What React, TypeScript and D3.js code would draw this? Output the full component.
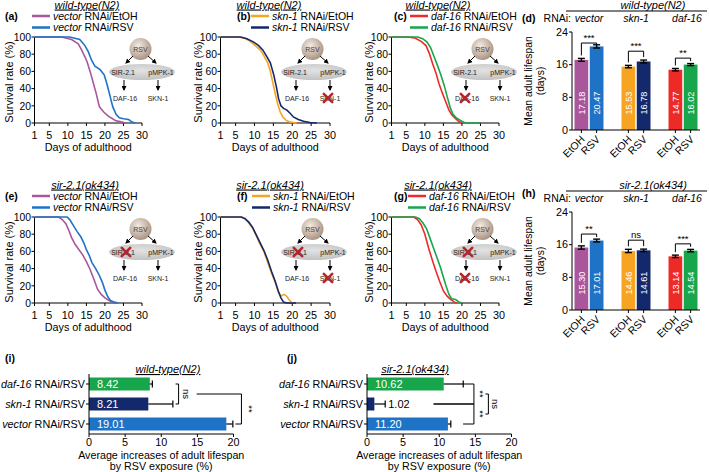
import React from 'react';
import * as d3 from 'd3';

const FONT = '"Liberation Sans", Arial, Helvetica, sans-serif';

// ---------- colours ----------
const COL = {
  vecE: '#a9569b',
  vecR: '#1f73c6',
  sknE: '#f7a423',
  sknR: '#14296b',
  dafE: '#ee2a27',
  dafR: '#17a64c',
};

// ---------- survival data [day, % alive] ----------
const dayTicks = [1, 5, 10, 15, 20, 25, 30];
const survTicks = [0, 20, 40, 60, 80, 100];

const aVecEtOH = [[1,100],[8.3,100],[11,97],[12.8,92],[13.7,85],[14.6,77],[15.2,71],[16,60],[16.9,46],[17.6,35],[18.5,19],[19.6,13],[20.9,8],[22.8,3],[24.6,1],[25.5,0]];
const aVecRSV = [[1,100],[10.5,100],[13.2,97],[14.6,90],[15.5,83],[16.4,73],[17.3,66],[18.7,62],[19.8,56],[20.5,46],[21.4,31],[22.1,19],[23,10],[23.9,6],[25,5],[26.4,4],[27.3,1],[28.2,0]];
const bSknEtOH = [[1,100],[5.4,100],[7.2,99],[8.9,95],[10.2,90],[11.5,85],[12.4,79],[13.5,70],[14.2,60],[14.9,46],[15.5,34],[16.1,23],[16.8,13],[17.5,7],[18.4,3],[19.5,1],[21.2,0]];
const bSknRSV = [[1,100],[6.3,100],[8,98],[9.8,94],[11.1,90],[12.2,85],[13.3,77],[14.2,70],[15.1,56],[15.8,42],[16.4,28],[17,20],[17.7,17],[18.6,15],[19.5,11],[20.3,7],[21.6,4],[23,2],[24.7,0.5],[26.5,0]];
const cDafEtOH = [[1,100],[5.4,100],[7.2,99],[9,95],[10.3,90],[11.2,81],[12.1,69],[13,58],[13.8,46],[14.7,35],[15.6,25],[16.5,15],[17.2,10],[18.1,6],[19.1,2],[20,0]];
const cDafRSV = [[1,100],[8.1,100],[9.4,98],[10.6,94],[11.6,87],[12.5,77],[13.4,67],[14.3,56],[15.2,44],[16,31],[16.9,17],[17.6,10],[18.5,6],[19.6,3],[20.5,1],[21.2,0],[25,0]];
const eVecEtOH = [[1,100],[7.5,100],[8.5,97],[9.5,92],[10.3,84],[11,76],[12,68],[13,62],[14,56],[15,48],[16,39],[17,28],[18,16],[19,10],[20,6],[21,3],[22,1],[23,0]];
const eVecRSV = [[1,100],[9.8,100],[10.5,97],[11.5,90],[12.5,83],[13.5,77],[14.3,70],[15,62],[15.8,55],[16.5,47],[17.5,40],[18.5,32],[19.3,24],[20,15],[20.8,7],[21.5,3],[22.5,1],[23.5,0]];
const fSknEtOH = [[1,100],[6.5,100],[7.5,98],[8.5,93],[9.5,87],[10.5,78],[11.5,68],[12.5,60],[13.5,47],[14.5,35],[15.5,24],[16.3,13],[17,8],[17.8,10],[18.5,8],[19.3,3],[20,0]];
const fSknRSV = [[1,100],[6.5,100],[7.5,98],[8.5,94],[9.5,88],[10.5,79],[11.5,70],[12.5,61],[13.5,50],[14.5,37],[15.5,25],[16.3,14],[17,6],[17.7,1],[18.5,0],[21,0]];
const gDafEtOH = [[1,100],[7,100],[8,97],[9,91],[10,80],[11,64],[12,50],[13,37],[14,25],[15,14],[16,8],[17,4],[18,1],[18.6,0]];
const gDafRSV = [[1,100],[7.5,100],[8.5,98],[9.5,93],[10.5,86],[11.5,74],[12.5,62],[13.5,50],[14.3,40],[15,30],[15.7,20],[16.5,10],[17.2,5],[18.3,4],[19.2,1],[20,0]];

// ---------- mean lifespan data ----------
const groups = ['vector', 'skn-1', 'daf-16'];
const treatments = ['EtOH', 'RSV'];
const meanTicks = [0, 8, 16, 24];
const meanN2 = [17.18, 20.47, 15.53, 16.78, 14.77, 16.02];
const semN2 = [0.35, 0.4, 0.3, 0.35, 0.3, 0.25];
const sigN2 = ['***', '***', '**'];
const sigN2Level = [21.3, 19.3, 17.6];
const meanSir = [15.30, 17.01, 14.46, 14.61, 13.14, 14.54];
const semSir = [0.4, 0.35, 0.4, 0.3, 0.3, 0.3];
const sigSir = ['**', 'ns', '***'];
const sigSirLevel = [18.6, 17.1, 16.2];

// ---------- increase data ----------
const incCats = ['daf-16', 'skn-1', 'vector'];
const incTicks = [0, 5, 10, 15, 20];
const incN2 = [8.42, 8.21, 19.01];
const incN2Err = [0.35, 3.4, 0.9];
const incSir = [10.62, 1.02, 11.20];
const incSirErr = [2.7, 1.5, 0.4];

const barColors = [COL.vecE, COL.vecR, COL.sknE, COL.sknR, COL.dafE, COL.dafR];
const incColors = [COL.dafR, COL.sknR, COL.vecR];

// ---------- layout of survival panels ----------
const survPanels = [
  { label: '(a)', title: 'wild-type(N2)', gene: 'vector', top: 0, x0: 34.5, x1: 142, labX: 5, legX: 32, titleX: 87, ylabX: 13, diagX: 142, e: aVecEtOH, r: aVecRSV, cE: COL.vecE, cR: COL.vecR, cross: [] },
  { label: '(b)', title: 'wild-type(N2)', gene: 'skn-1', top: 0, x0: 220.5, x1: 330, labX: 237, legX: 251, titleX: 269, ylabX: 202, diagX: 314, e: bSknEtOH, r: bSknRSV, cE: COL.sknE, cR: COL.sknR, cross: ['skn'] },
  { label: '(c)', title: 'wild-type(N2)', gene: 'daf-16', top: 0, x0: 391.5, x1: 499, labX: 394, legX: 410, titleX: 438, ylabX: 373, diagX: 484, e: cDafEtOH, r: cDafRSV, cE: COL.dafE, cR: COL.dafR, cross: ['daf'] },
  { label: '(e)', title: 'sir-2.1(ok434)', gene: 'vector', top: 180, x0: 34.5, x1: 142, labX: 5, legX: 32, titleX: 85, ylabX: 13, diagX: 142, e: eVecEtOH, r: eVecRSV, cE: COL.vecE, cR: COL.vecR, cross: ['sir'] },
  { label: '(f)', title: 'sir-2.1(ok434)', gene: 'skn-1', top: 180, x0: 220.5, x1: 330, labX: 237, legX: 252, titleX: 270, ylabX: 202, diagX: 314, e: fSknEtOH, r: fSknRSV, cE: COL.sknE, cR: COL.sknR, cross: ['sir', 'skn'] },
  { label: '(g)', title: 'sir-2.1(ok434)', gene: 'daf-16', top: 180, x0: 391.5, x1: 499, labX: 394, legX: 408, titleX: 438, ylabX: 373, diagX: 484, e: gDafEtOH, r: gDafRSV, cE: COL.dafE, cR: COL.dafR, cross: ['sir', 'daf'] },
];

function Cross({ x, y }) {
  const s = 4.2;
  return (
    <g stroke="#b8252b" strokeWidth={2.6} strokeLinecap="round">
      <line x1={x - s} y1={y - s} x2={x + s} y2={y + s} />
      <line x1={x - s} y1={y + s} x2={x + s} y2={y - s} />
    </g>
  );
}

function Diagram({ cx, cy, cross }) {
  const fs = 7;
  return (
    <g fontSize={fs}>
      <ellipse cx={cx} cy={cy + 23} rx={33} ry={8} fill="url(#ellGrad)" />
      <circle cx={cx - 1.5} cy={cy} r={11} fill="url(#rsvGrad)" />
      <text x={cx - 1.5} y={cy + 2.5} textAnchor="middle" fill="#444">RSV</text>
      <g stroke="#000" strokeWidth={1} markerEnd="url(#ah)">
        <line x1={cx - 9} y1={cy + 7} x2={cx - 16} y2={cy + 14} />
        <line x1={cx + 6} y1={cy + 7} x2={cx + 14} y2={cy + 14} />
        <line x1={cx - 18} y1={cy + 31} x2={cx - 18} y2={cy + 41} />
        <line x1={cx + 16} y1={cy + 31} x2={cx + 16} y2={cy + 41} />
      </g>
      <text x={cx - 19} y={cy + 25.5} textAnchor="middle" fill="#222">SIR-2.1</text>
      <text x={cx + 19} y={cy + 25.5} textAnchor="middle" fill="#222">pMPK-1</text>
      <text x={cx - 17} y={cy + 51.5} textAnchor="middle" fill="#222">DAF-16</text>
      <text x={cx + 16} y={cy + 51.5} textAnchor="middle" fill="#222">SKN-1</text>
      {cross.includes('sir') && <Cross x={cx - 16} y={cy + 23} />}
      {cross.includes('skn') && <Cross x={cx + 14} y={cy + 49} />}
      {cross.includes('daf') && <Cross x={cx - 19} y={cy + 49} />}
    </g>
  );
}

function SurvivalPanel({ p }) {
  const x = d3.scaleLinear().domain([1, 30]).range([p.x0, p.x1]);
  const y = d3.scaleLinear().domain([0, 100]).range([p.top + 123, p.top + 37]);
  const line = d3.line().x((d) => x(d[0])).y((d) => y(d[1]));
  const t = p.top;
  return (
    <g>
      <text x={p.titleX} y={t + 8.5} textAnchor="middle" fontSize={11} fontStyle="italic" style={{ textDecoration: 'underline' }}>{p.title}</text>
      <text x={p.labX} y={t + 19.5} fontSize={10.5} fontWeight="bold">{p.label}</text>
      <line x1={p.legX} x2={p.legX + 18} y1={t + 16} y2={t + 16} stroke={p.cE} strokeWidth={2.5} />
      <text x={p.legX + 21} y={t + 19.7} fontSize={10.5}><tspan fontStyle="italic">{p.gene}</tspan> RNAi/EtOH</text>
      <line x1={p.legX} x2={p.legX + 18} y1={t + 27.5} y2={t + 27.5} stroke={p.cR} strokeWidth={2.5} />
      <text x={p.legX + 21} y={t + 31.2} fontSize={10.5}><tspan fontStyle="italic">{p.gene}</tspan> RNAi/RSV</text>

      <Diagram cx={p.diagX} cy={t + 49} cross={p.cross} />

      {/* axes */}
      <g stroke="#000" strokeWidth={1}>
        <line x1={p.x0} x2={p.x0} y1={y(0)} y2={y(100)} />
        <line x1={p.x0} x2={p.x1} y1={y(0)} y2={y(0)} />
        {survTicks.map((v) => <line key={v} x1={p.x0 - 3} x2={p.x0} y1={y(v)} y2={y(v)} />)}
        {dayTicks.map((v) => <line key={v} x1={x(v)} x2={x(v)} y1={y(0)} y2={y(0) + 3} />)}
      </g>
      {survTicks.map((v) => (
        <text key={v} x={p.x0 - 3.5} y={y(v) + 3.7} textAnchor="end" fontSize={10.3}>{v}</text>
      ))}
      {dayTicks.map((v) => (
        <text key={v} x={x(v)} y={t + 139} textAnchor="middle" fontSize={10.8}>{v}</text>
      ))}
      <text x={(p.x0 + p.x1) / 2} y={t + 150.5} textAnchor="middle" fontSize={10.8}>Days of adulthood</text>
      <text transform={`translate(${p.ylabX},${t + 82}) rotate(-90)`} textAnchor="middle" fontSize={11}>Survival rate (%)</text>

      <path d={line(p.e)} fill="none" stroke={p.cE} strokeWidth={1.6} />
      <path d={line(p.r)} fill="none" stroke={p.cR} strokeWidth={1.6} />
    </g>
  );
}

function MeanPanel({ top, means, sems, sig, sigLevel, title, label, labelY }) {
  const y = d3.scaleLinear().domain([0, 24]).range([top + 130, top + 32]);
  const gx = d3.scaleBand().domain(groups).range([565.5, 706.5]);
  const tx = d3.scaleBand().domain(treatments).range([-15.25, 15.25]).paddingInner(0.1).paddingOuter(0.05);
  const ax = 572;
  const bars = [];
  groups.forEach((g, gi) => treatments.forEach((tr, ti) => {
    const i = gi * 2 + ti;
    const cx = gx(g) + gx.bandwidth() / 2 + tx(tr) + tx.bandwidth() / 2;
    bars.push({ i, g, tr, cx, v: means[i], e: sems[i], c: barColors[i] });
  }));
  const bw = tx.bandwidth();
  return (
    <g>
      <text x={653} y={top + 8.5} textAnchor="middle" fontSize={11} fontStyle="italic">{title}</text>
      <line x1={566} x2={707} y1={top + 11} y2={top + 11} stroke="#000" strokeWidth={1} />
      <text x={522} y={labelY} fontSize={10.5} fontWeight="bold">{label}</text>
      <text x={571} y={top + 22} textAnchor="end" fontSize={10.5}>RNAi:</text>
      {groups.map((g) => (
        <text key={g} x={gx(g) + gx.bandwidth() / 2 + (g === 'daf-16' ? 4 : 0)} y={top + 22} textAnchor="middle" fontSize={10.5} fontStyle="italic">{g}</text>
      ))}
      <text transform={`translate(531.5,${top + 81}) rotate(-90)`} textAnchor="middle" fontSize={10.3}>Mean adult lifespan</text>
      <text transform={`translate(543.5,${top + 81}) rotate(-90)`} textAnchor="middle" fontSize={10.3}>(days)</text>

      {bars.map((b) => (
        <g key={b.i}>
          <rect x={b.cx - bw / 2} y={y(b.v)} width={bw} height={y(0) - y(b.v)} fill={b.c} />
          <g stroke="#000" strokeWidth={1.4}>
            <line x1={b.cx} x2={b.cx} y1={y(b.v - b.e)} y2={y(b.v + b.e)} />
            <line x1={b.cx - 3.5} x2={b.cx + 3.5} y1={y(b.v + b.e)} y2={y(b.v + b.e)} />
            <line x1={b.cx - 3.5} x2={b.cx + 3.5} y1={y(b.v - b.e)} y2={y(b.v - b.e)} />
          </g>
          <text transform={`translate(${b.cx + 3.3},${y(6.6)}) rotate(-90)`} textAnchor="middle" fontSize={9.2} fill="#fff">{b.v.toFixed(2)}</text>
          <text transform={`translate(${b.cx + 4},${top + 140}) rotate(-45)`} textAnchor="end" fontSize={10.5}>{b.tr}</text>
        </g>
      ))}

      <g stroke="#000" strokeWidth={1}>
        <line x1={ax} x2={ax} y1={y(0)} y2={y(24)} />
        <line x1={ax} x2={700} y1={y(0)} y2={y(0)} />
        {meanTicks.map((v) => <line key={v} x1={ax - 3} x2={ax} y1={y(v)} y2={y(v)} />)}
        {bars.map((b) => <line key={b.i} x1={b.cx} x2={b.cx} y1={y(0)} y2={y(0) + 3} />)}
      </g>
      {meanTicks.map((v) => (
        <text key={v} x={ax - 4} y={y(v) + 3.8} textAnchor="end" fontSize={10.8}>{v}</text>
      ))}

      {groups.map((g, gi) => {
        const l = bars[gi * 2], r = bars[gi * 2 + 1];
        const yb = y(sigLevel[gi]);
        const yl = Math.max(yb + 3, y(l.v + l.e) - 3);
        const yr = Math.max(yb + 3, y(r.v + r.e) - 3);
        return (
          <g key={g}>
            <path d={`M${l.cx},${yl}V${yb}H${r.cx}V${yr}`} fill="none" stroke="#000" strokeWidth={1} />
            <text x={(l.cx + r.cx) / 2} y={yb - 2} textAnchor="middle" fontSize={9.5}>{sig[gi]}</text>
          </g>
        );
      })}
    </g>
  );
}

function IncPanel({ x0, vals, errs, title, titleX, label, labelX, children }) {
  const x = d3.scaleLinear().domain([0, 20]).range([x0, x0 + 144.5]);
  const yb = d3.scaleBand().domain(incCats).range([374, 434]).paddingInner(0.35).paddingOuter(0.175);
  const cy = (c) => yb(c) + yb.bandwidth() / 2;
  return (
    <g>
      <text x={labelX} y={362} fontSize={10.5} fontWeight="bold">{label}</text>
      <text x={titleX} y={373} textAnchor="middle" fontSize={11} fontStyle="italic" style={{ textDecoration: 'underline' }}>{title}</text>
      {incCats.map((c) => (
        <text key={c} x={x0 - 4} y={cy(c) + 3.8} textAnchor="end" fontSize={10.8}><tspan fontStyle="italic">{c}</tspan> RNAi/RSV</text>
      ))}
      {incCats.map((c, i) => {
        const v = vals[i], e = errs[i];
        const inside = x(v) - x(0) > 30;
        return (
          <g key={c}>
            <rect x={x(0)} y={yb(c)} width={x(v) - x(0)} height={yb.bandwidth()} fill={incColors[i]} />
            <g stroke="#000" strokeWidth={1.2}>
              <line x1={x(v)} x2={x(v + e)} y1={cy(c)} y2={cy(c)} />
              <line x1={x(v + e)} x2={x(v + e)} y1={cy(c) - 3.5} y2={cy(c) + 3.5} />
            </g>
            <text x={inside ? x(0) + 8 : x(v + e) + 3} y={cy(c) + 4} fontSize={11} fill={inside ? '#fff' : '#000'}>{v.toFixed(2)}</text>
          </g>
        );
      })}
      <g stroke="#000" strokeWidth={1}>
        <line x1={x(0)} x2={x(0)} y1={374} y2={434} />
        <line x1={x(0)} x2={x(20)} y1={434} y2={434} />
        {incCats.map((c) => <line key={c} x1={x(0) - 3} x2={x(0)} y1={cy(c)} y2={cy(c)} />)}
        {incTicks.map((v) => <line key={v} x1={x(v)} x2={x(v)} y1={434} y2={437} />)}
      </g>
      {incTicks.map((v) => (
        <text key={v} x={x(v)} y={446} textAnchor="middle" fontSize={10.8}>{v}</text>
      ))}
      <text x={x(10)} y={459} textAnchor="middle" fontSize={10.7}>Average increases of adult lifespan</text>
      <text x={x(10)} y={470} textAnchor="middle" fontSize={10.7}>by RSV exposure (%)</text>
      {children({ x, cy })}
    </g>
  );
}

export default function App() {
  return (
    <svg width={709} height={472} style={{ position: 'absolute', left: 0, top: 0, background: '#fff' }} fontFamily={FONT}>
      <defs>
        <marker id="ah" viewBox="0 0 10 10" refX="8" refY="5" markerWidth="5" markerHeight="5" orient="auto">
          <path d="M0,0 L10,5 L0,10 z" fill="#000" />
        </marker>
        <radialGradient id="rsvGrad" cx="40%" cy="35%" r="70%">
          <stop offset="0" stopColor="#f3ebe3" />
          <stop offset="1" stopColor="#a58e7c" />
        </radialGradient>
        <radialGradient id="ellGrad" cx="50%" cy="40%" r="70%">
          <stop offset="0" stopColor="#e2e2e2" />
          <stop offset="1" stopColor="#bdbdbd" />
        </radialGradient>
      </defs>
      <rect width={709} height={472} fill="#fff" />
      {survPanels.map((p) => <SurvivalPanel key={p.label} p={p} />)}
      <MeanPanel top={0} means={meanN2} sems={semN2} sig={sigN2} sigLevel={sigN2Level} title="wild-type(N2)" label="(d)" labelY={22} />
      <MeanPanel top={180} means={meanSir} sems={semSir} sig={sigSir} sigLevel={sigSirLevel} title="sir-2.1(ok434)" label="(h)" labelY={197} />

      <IncPanel x0={89} vals={incN2} errs={incN2Err} title="wild-type(N2)" titleX={168} label="(i)" labelX={5}>
        {({ x, cy }) => {
          const yA = cy('daf-16'), yB = cy('skn-1'), yC = cy('vector');
          const xn = x(12.4);
          const ym = (yA + yB) / 2;
          const xs = x(21.1);
          return (
            <g>
              <path d={`M${xn - 3},${yA}H${xn}V${yB}H${xn - 3}`} fill="none" stroke="#000" strokeWidth={1} />
              <text transform={`translate(${xn + 4},${ym}) rotate(90)`} textAnchor="middle" fontSize={9.5}>ns</text>
              <path d={`M${x(14.9)},${ym}H${xs}V${yC}H${xs - 6}`} fill="none" stroke="#000" strokeWidth={1} />
              <text transform={`translate(${xs + 5},${(ym + yC) / 2}) rotate(90)`} textAnchor="middle" fontSize={9.5}>**</text>
            </g>
          );
        }}
      </IncPanel>

      <IncPanel x0={367} vals={incSir} errs={incSirErr} title="sir-2.1(ok434)" titleX={415} label="(j)" labelX={287}>
        {({ x, cy }) => {
          const yA = cy('daf-16'), yB = cy('skn-1'), yC = cy('vector');
          const xb = x(14.8);
          const xn = x(16.8);
          const m1 = (yA + yB) / 2, m2 = (yB + yC) / 2;
          return (
            <g>
              <g fill="none" stroke="#000" strokeWidth={1}>
                <path d={`M${x(13.3)},${yA}H${xb}V${yC}H${x(13.3)}`} />
                <line x1={x(9.2)} x2={xb} y1={yB} y2={yB} strokeWidth={1.6} />
                <path d={`M${xn - 3},${m1}H${xn}V${m2}H${xn - 3}`} />
              </g>
              <text transform={`translate(${xb + 3},${m1}) rotate(90)`} textAnchor="middle" fontSize={9.5}>**</text>
              <text transform={`translate(${xb + 3},${m2}) rotate(90)`} textAnchor="middle" fontSize={9.5}>**</text>
              <text transform={`translate(${xn + 4},${(m1 + m2) / 2}) rotate(90)`} textAnchor="middle" fontSize={9.5}>ns</text>
            </g>
          );
        }}
      </IncPanel>
    </svg>
  );
}
